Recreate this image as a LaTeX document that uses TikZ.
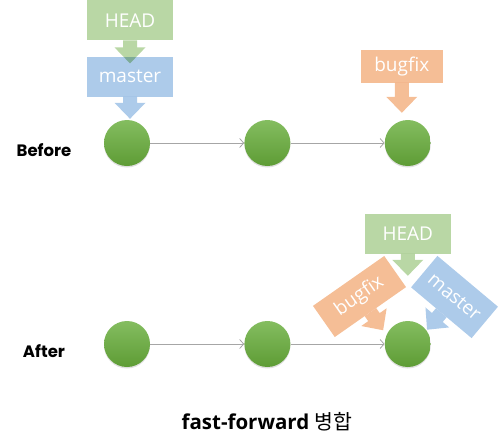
\documentclass[tikz,border=0pt]{standalone}
\usepackage{fontspec}
\setmainfont{Open Sans}
\newfontfamily\rowfont{Poppins}
\newfontfamily\krfont{Noto Sans CJK KR}
\usetikzlibrary{positioning,arrows.meta,shadows}

\definecolor{headgreen}{HTML}{B9D7A5}
\definecolor{masterblue}{HTML}{ADCBEA}
\definecolor{bugfixorange}{HTML}{F5BE96}
\definecolor{commitlight}{HTML}{84BD60}
\definecolor{commitdark}{HTML}{5E9C35}
\definecolor{linkgray}{HTML}{A6A6A6}

\tikzset{
  tag/.style={inner sep=0pt, text=white, font=\fontsize{19}{22}\selectfont,
    minimum width=86pt, minimum height=40pt},
  headtag/.style={tag, fill=headgreen},
  mastertag/.style={tag, fill=masterblue},
  bugfixtag/.style={tag, fill=bugfixorange},
  commit/.style={circle, minimum size=46pt, inner sep=0pt,
    top color=commitlight, bottom color=commitdark,
    drop shadow={opacity=0.25, shadow xshift=0pt, shadow yshift=-1.5pt}},
  link/.style={draw=linkgray, line width=0.8pt, -{Straight Barb[length=4pt, width=9pt]}},
  rowlabel/.style={font=\rowfont\bfseries\fontsize{16.5}{19}\selectfont},
}

% block arrow hanging under a tag: node, colour, shaft length
\newcommand\pointer[3]{%
  \fill[#2, blend mode=multiply] (#1.south) ++(-7,0) -- ++(0,#3) -- ++(-8.5,0)
    -- ++(15.5,16) -- ++(15.5,-16) -- ++(-8.5,0) -- ++(0,-#3) -- cycle;
}

\begin{document}
\begin{tikzpicture}[x=1pt, y=-1pt]
  \useasboundingbox (0,0) rectangle (500,447);

  % before
  \node[rowlabel] (before) at (44,150) {Before};
  \node[commit] (c1) at (127,143) {};
  \node[commit, right=94pt of c1] (c2) {};
  \node[commit, right=94pt of c2] (c3) {};
  \draw[link] (c1) -- (c2);
  \draw[link] (c2) -- (c3);

  \node[mastertag, above=23pt of c1, xshift=3pt] (master1) {master};
  \node[headtag, above=16pt of master1] (head1) {HEAD};
  \pointer{head1}{headgreen}{7}
  \pointer{master1}{masterblue}{6}

  \node[bugfixtag, minimum width=82pt, minimum height=33pt, above=37pt of c3, xshift=-6pt] (bugfix1) {bugfix};
  \pointer{bugfix1}{bugfixorange}{14}

  % after
  \node[rowlabel] (after) at (44,351) {After};
  \node[commit] (d1) at (127,344) {};
  \node[commit, right=94pt of d1] (d2) {};
  \node[commit, right=94pt of d2] (d3) {};
  \draw[link] (d1) -- (d2);
  \draw[link] (d2) -- (d3);

  \node[headtag, above=67pt of d3] (head2) {HEAD};
  \pointer{head2}{headgreen}{6}

  \begin{scope}[shift={(359.5,296.5)}, rotate=35, transform shape]
    \node[bugfixtag, minimum width=87pt, minimum height=38pt] (bugfix2) at (0,0) {bugfix};
    \pointer{bugfix2}{bugfixorange}{6}
  \end{scope}
  \begin{scope}[shift={(454.5,297)}, rotate=-40, transform shape]
    \node[mastertag, minimum width=79pt, minimum height=41pt] (master2) at (0,0) {master};
    \pointer{master2}{masterblue}{6}
  \end{scope}

  \node[font=\bfseries\fontsize{20.5}{24}\selectfont] (title) at (267,422)
    {fast-forward {\krfont\mdseries 병합}};
\end{tikzpicture}
\end{document}
